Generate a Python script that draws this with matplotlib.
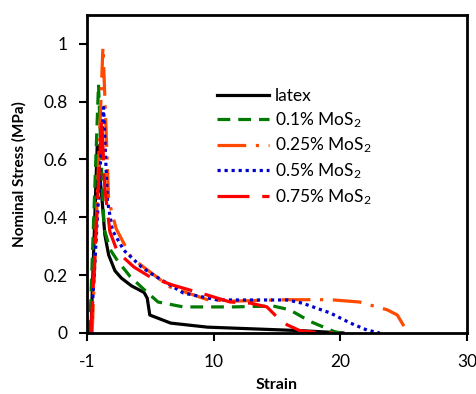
import matplotlib
matplotlib.use("Agg")
import matplotlib.pyplot as plt

plt.rcParams['font.family'] = ['Lato', 'DejaVu Sans']
plt.rcParams['mathtext.fontset'] = 'custom'
plt.rcParams['mathtext.rm'] = 'Lato'
plt.rcParams['mathtext.it'] = 'Lato'

# strain / stress data
latex_x = [0.3, 0.8, 1.0, 1.2, 1.4, 1.7, 2.2, 2.7, 3.5, 4.5, 4.75, 4.95, 6.6, 9.5, 16.8, 20.2]
latex_y = [0.0, 0.65, 0.55, 0.45, 0.34, 0.27, 0.215, 0.19, 0.163, 0.14, 0.12, 0.062, 0.034, 0.02, 0.008, 0.0]

m01_x = [0.2, 0.9, 1.2, 1.35, 1.8, 2.4, 3.4, 4.5, 5.6, 7.6, 11.5, 14.7, 16.0, 17.6, 19.5, 20.0]
m01_y = [0.0, 0.86, 0.5, 0.36, 0.29, 0.25, 0.195, 0.15, 0.107, 0.09, 0.09, 0.093, 0.08, 0.04, 0.005, 0.0]

m025_x = [0.4, 1.25, 1.5, 1.7, 2.3, 3.5, 5.0, 6.5, 9.5, 11.5, 15.8, 19.2, 21.5, 23.7, 24.5, 25.2, 25.3]
m025_y = [0.0, 0.99, 0.7, 0.46, 0.36, 0.26, 0.21, 0.16, 0.115, 0.11, 0.115, 0.115, 0.107, 0.08, 0.062, 0.01, 0.0]

m05_x = [0.3, 1.3, 1.6, 2.0, 2.9, 4.3, 5.0, 7.6, 10.3, 15.8, 17.0, 19.2, 20.8, 22.1, 23.1]
m05_y = [0.0, 0.78, 0.46, 0.355, 0.286, 0.228, 0.207, 0.138, 0.114, 0.114, 0.103, 0.069, 0.034, 0.01, 0.0]

m075_x = [0.3, 1.15, 1.4, 1.8, 2.4, 3.7, 5.0, 6.8, 9.5, 11.3, 12.9, 14.2, 15.0, 15.8, 16.8, 18.4, 19.4]
m075_y = [0.0, 0.74, 0.5, 0.35, 0.28, 0.228, 0.193, 0.165, 0.131, 0.107, 0.103, 0.09, 0.055, 0.028, 0.008, 0.0, 0.0]

labels = ['latex', '0.1% MoS$_2$', '0.25% MoS$_2$', '0.5% MoS$_2$', '0.75% MoS$_2$']
xticks = [0, 10, 20, 30]
xticklabels = ['-1', '10', '20', '30']
yticks = [0, 0.2, 0.4, 0.6, 0.8, 1.0]
yticklabels = ['0', '0.2', '0.4', '0.6', '0.8', '1']

fig = plt.figure(figsize=(4.76, 3.94), dpi=100)
ax = fig.add_axes([0.183, 0.155, 0.798, 0.807])

lw = 2.3
ax.plot(latex_x, latex_y, color='black', lw=lw, label=labels[0])
ax.plot(m01_x, m01_y, color='#007A00', lw=lw, dashes=(4, 2.5), label=labels[1])
ax.plot(m025_x, m025_y, color='#FF4A00', lw=lw, dashes=(9, 3, 1, 3), label=labels[2])
ax.plot(m05_x, m05_y, color='#0000CC', lw=lw, dashes=(1, 1.2), label=labels[3])
ax.plot(m075_x, m075_y, color='#FF0000', lw=lw, dashes=(10, 4), label=labels[4])

ax.set_xlim(0, 30)
ax.set_ylim(0, 1.1)
ax.set_xticks(xticks)
ax.set_xticklabels(xticklabels)
ax.set_yticks(yticks)
ax.set_yticklabels(yticklabels)
ax.tick_params(direction='out', length=6, width=1.5, labelsize=12.5)
ax.tick_params(axis='x', pad=9)
ax.tick_params(axis='y', pad=8)
for s in ax.spines.values():
    s.set_linewidth(2)

ax.set_xlabel('Strain', fontsize=11.5, fontweight='bold', labelpad=6)
ax.set_ylabel('Nominal Stress (MPa)', fontsize=11, fontweight='bold', labelpad=12)

ax.legend(loc='upper left', bbox_to_anchor=(0.3, 0.82), frameon=False,
          fontsize=12.5, handlelength=3.0, labelspacing=0.35, handletextpad=0.35)

fig.savefig('out.png', dpi=100)
